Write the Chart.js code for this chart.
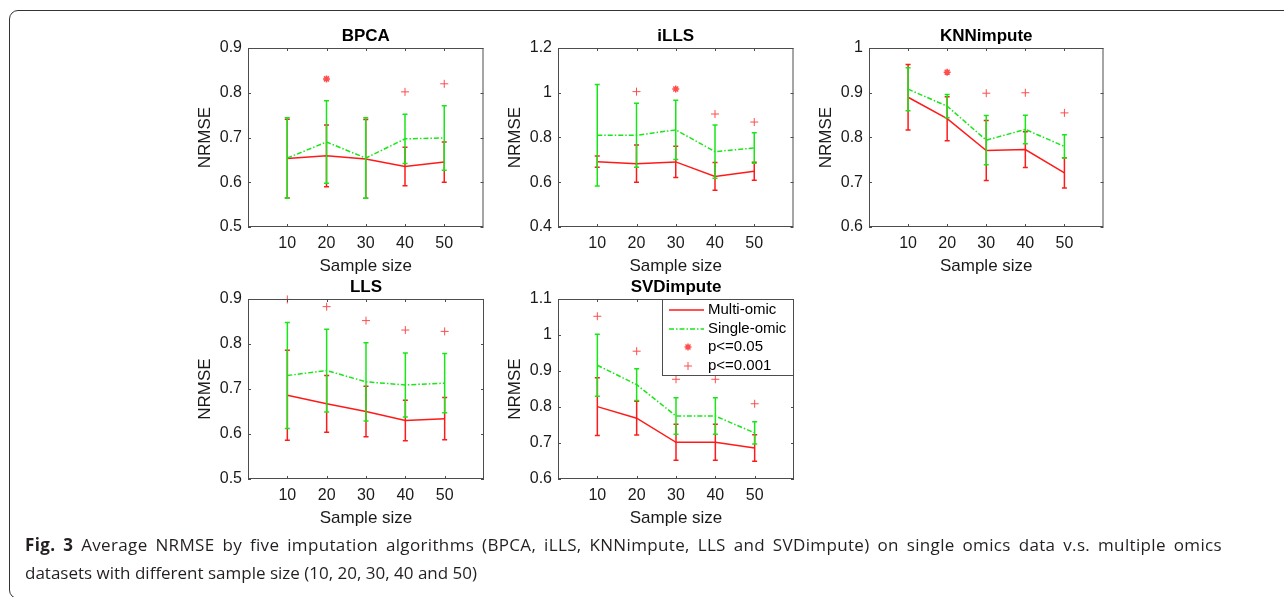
<!DOCTYPE html>
<html>
<head>
<meta charset="utf-8">
<script src="https://cdn.jsdelivr.net/npm/chart.js@4.4.1/dist/chart.umd.min.js"></script>
<style>
  html, body { margin: 0; padding: 0; background: #fff; }
  body { width: 1284px; height: 597px; position: relative; overflow: hidden; }
  .frame { position: absolute; left: 9px; top: 10px; width: 1300px; height: 587px; border: 1.5px solid #333; border-radius: 9px; }
  .panel { position: absolute; }
  .caption { position: absolute; left: 25px; top: 531px; width: 1197px; font: 17px "Open Sans", sans-serif; line-height: 28px; color: #231f20; }
  .caption .l1 { display: block; text-align: justify; text-align-last: justify; white-space: nowrap; letter-spacing: 0.35px; }
  .caption b { font-weight: 700; }
</style>
</head>
<body>
<div class="frame"></div>
<div class="panel" id="p-bpca"><canvas id="bpcaChart"></canvas></div>
<div class="panel" id="p-ills"><canvas id="illsChart"></canvas></div>
<div class="panel" id="p-knn"><canvas id="knnChart"></canvas></div>
<div class="panel" id="p-lls"><canvas id="llsChart"></canvas></div>
<div class="panel" id="p-svd"><canvas id="svdChart"></canvas></div>
<div class="caption"><span class="l1"><b>Fig. 3</b> Average NRMSE by five imputation algorithms (BPCA, iLLS, KNNimpute, LLS and SVDimpute) on single omics data v.s. multiple omics</span>datasets with different sample size (10, 20, 30, 40 and 50)</div>

<script>
// x axis: sample sizes
const sampleSizes = [10, 20, 30, 40, 50];

// BPCA
const bpcaTicks = [0.5, 0.6, 0.7, 0.8, 0.9];
const bpcaMulti = [0.653, 0.659, 0.652, 0.635, 0.645];
const bpcaMultiErr = [0.088, 0.069, 0.088, 0.043, 0.045];
const bpcaSingle = [0.654, 0.690, 0.654, 0.697, 0.699];
const bpcaSingleErr = [0.090, 0.092, 0.090, 0.055, 0.072];
const bpcaP05 = [null, 0.831, null, null, null];
const bpcaP001 = [null, null, null, 0.802, 0.820];

// iLLS
const illsTicks = [0.4, 0.6, 0.8, 1, 1.2];
const illsMulti = [0.692, 0.683, 0.691, 0.626, 0.649];
const illsMultiErr = [0.025, 0.083, 0.070, 0.062, 0.040];
const illsSingle = [0.810, 0.810, 0.834, 0.737, 0.753];
const illsSingleErr = [0.227, 0.143, 0.132, 0.119, 0.068];
const illsP05 = [null, null, 1.017, null, null];
const illsP001 = [null, 1.005, null, 0.905, 0.869];

// KNNimpute
const knnTicks = [0.6, 0.7, 0.8, 0.9, 1];
const knnMulti = [0.890, 0.842, 0.771, 0.773, 0.721];
const knnMultiErr = [0.073, 0.049, 0.067, 0.040, 0.034];
const knnSingle = [0.908, 0.870, 0.794, 0.818, 0.780];
const knnSingleErr = [0.048, 0.026, 0.055, 0.032, 0.026];
const knnP05 = [null, 0.946, null, null, null];
const knnP001 = [null, null, 0.899, 0.900, 0.855];

// LLS
const llsTicks = [0.5, 0.6, 0.7, 0.8, 0.9];
const llsMulti = [0.686, 0.667, 0.650, 0.630, 0.634];
const llsMultiErr = [0.100, 0.063, 0.056, 0.045, 0.047];
const llsSingle = [0.730, 0.741, 0.716, 0.709, 0.713];
const llsSingleErr = [0.118, 0.092, 0.087, 0.071, 0.066];
const llsP05 = [null, null, null, null, null];
const llsP001 = [0.899, 0.883, 0.852, 0.831, 0.828];

// SVDimpute
const svdTicks = [0.6, 0.7, 0.8, 0.9, 1, 1.1];
const svdMulti = [0.801, 0.769, 0.702, 0.702, 0.686];
const svdMultiErr = [0.080, 0.047, 0.050, 0.050, 0.037];
const svdSingle = [0.916, 0.862, 0.775, 0.775, 0.728];
const svdSingleErr = [0.086, 0.044, 0.051, 0.051, 0.031];
const svdP05 = [null, null, null, null, null];
const svdP001 = [1.052, 0.955, 0.877, 0.877, 0.809];

const RED = "#ff1a1a";
const GREEN = "#19e619";
const MARK = "#ff4d4d";

Chart.defaults.font.family = "'Liberation Sans', Arial, sans-serif";
Chart.defaults.color = "#1a1a1a";
Chart.defaults.animation = false;

// MATLAB-like box with inward ticks
const boxPlugin = {
  id: "matlabBox",
  afterDatasetsDraw(chart) {
    const { ctx, chartArea: a, scales: { x, y } } = chart;
    ctx.save();
    ctx.strokeStyle = "#4d4d4d";
    ctx.lineWidth = 1;
    ctx.strokeRect(a.left + 0.5, a.top + 0.5, a.right - a.left - 1, a.bottom - a.top - 1);
    ctx.beginPath();
    y.ticks.forEach(t => {
      const py = Math.round(y.getPixelForValue(t.value)) + 0.5;
      ctx.moveTo(a.left, py); ctx.lineTo(a.left + 3, py);
      ctx.moveTo(a.right, py); ctx.lineTo(a.right - 3, py);
    });
    x.ticks.forEach(t => {
      const px = Math.round(x.getPixelForValue(t.value)) + 0.5;
      ctx.moveTo(px, a.bottom); ctx.lineTo(px, a.bottom - 3);
      ctx.moveTo(px, a.top); ctx.lineTo(px, a.top + 3);
    });
    ctx.stroke();
    ctx.restore();
  }
};

// vertical error bars with small caps, drawn right after their dataset
const errorBarPlugin = {
  id: "errorBars",
  afterDatasetDraw(chart, args) {
    const ds = chart.data.datasets[args.index];
    if (!ds.errors) return;
    const { ctx, scales: { x, y } } = chart;
    ctx.save();
    ctx.strokeStyle = ds.borderColor;
    ctx.lineWidth = 1.5;
    ctx.beginPath();
    ds.data.forEach((p, i) => {
      const e = ds.errors[i];
      const px = x.getPixelForValue(p.x);
      const top = y.getPixelForValue(p.y + e);
      const bot = y.getPixelForValue(p.y - e);
      ctx.moveTo(px, top); ctx.lineTo(px, bot);
      ctx.moveTo(px - 2.5, top); ctx.lineTo(px + 2.5, top);
      ctx.moveTo(px - 2.5, bot); ctx.lineTo(px + 2.5, bot);
    });
    ctx.stroke();
    ctx.restore();
  }
};

// boxed legend in the upper right of the plot area
const legendBoxPlugin = {
  id: "legendBox",
  afterDraw(chart, args, opts) {
    if (!opts.show) return;
    const { ctx, chartArea: a } = chart;
    const w = 132, h = 77;
    const left = a.right - w, top = a.top;
    ctx.save();
    ctx.fillStyle = "#fff";
    ctx.fillRect(left, top, w, h);
    ctx.strokeStyle = "#4d4d4d";
    ctx.lineWidth = 1;
    ctx.strokeRect(left + 0.5, top + 0.5, w - 1, h - 1);
    const rows = [11, 30, 48, 67];
    chart.data.datasets.forEach((ds, i) => {
      const cy = top + rows[i];
      ctx.strokeStyle = ds.borderColor;
      ctx.fillStyle = ds.borderColor;
      ctx.lineWidth = ds.borderWidth;
      if (ds.showLine === false) {
        Chart.helpers.drawPoint(ctx, {
          pointStyle: ds.pointStyle, radius: ds.pointRadius, rotation: 0, borderWidth: ds.borderWidth
        }, left + 26, cy);
      } else {
        ctx.setLineDash(ds.borderDash || []);
        ctx.beginPath();
        ctx.moveTo(left + 7, cy);
        ctx.lineTo(left + 42, cy);
        ctx.stroke();
        ctx.setLineDash([]);
      }
      ctx.fillStyle = "#000";
      ctx.font = "15px 'Liberation Sans', Arial, sans-serif";
      ctx.textBaseline = "middle";
      ctx.fillText(ds.label, left + 46, cy);
    });
    ctx.restore();
  }
};

function points(values) {
  return sampleSizes.map((s, i) => ({ x: s, y: values[i] })).filter(p => p.y !== null);
}

function makePanel(cfg) {
  const [l, t, r, b] = cfg.box;
  const wrap = document.getElementById(cfg.wrap);
  wrap.style.left = (l - 62) + "px";
  wrap.style.top = (t - 26) + "px";
  wrap.style.width = (r - l + 62 + 4) + "px";
  wrap.style.height = (b - t + 26 + 55) + "px";

  return new Chart(document.getElementById(cfg.canvas), {
    type: "line",
    data: {
      datasets: [
        {
          label: "Multi-omic", data: points(cfg.multi), errors: cfg.multiErr,
          borderColor: RED, borderWidth: 1.5, pointRadius: 0, order: 4, clip: false
        },
        {
          label: "Single-omic", data: points(cfg.single), errors: cfg.singleErr,
          borderColor: GREEN, borderWidth: 1.5, borderDash: [5, 2, 1.5, 2], pointRadius: 0, order: 3, clip: false
        },
        {
          label: "p<=0.05", data: points(cfg.p05), showLine: false,
          pointStyle: "star", pointRadius: 3.5, borderWidth: 1.5,
          borderColor: MARK, backgroundColor: MARK, order: 2, clip: false
        },
        {
          label: "p<=0.001", data: points(cfg.p001), showLine: false,
          pointStyle: "cross", pointRadius: 4, borderWidth: 1,
          borderColor: MARK, backgroundColor: MARK, order: 1, clip: false
        }
      ]
    },
    options: {
      responsive: true,
      maintainAspectRatio: false,
      layout: { padding: { top: 6, left: 0, right: 4, bottom: 0 } },
      plugins: {
        legend: { display: false },
        tooltip: { enabled: false },
        title: {
          display: true, text: cfg.title, fullSize: false, color: "#000",
          font: { size: 17, weight: "bold", lineHeight: "16px" },
          padding: { top: 0, bottom: 4 }
        },
        legendBox: { show: !!cfg.legend }
      },
      scales: {
        x: {
          type: "linear", min: 0, max: 60,
          afterBuildTicks: s => { s.ticks = sampleSizes.map(v => ({ value: v })); },
          afterFit: s => { s.height = 55; },
          grid: { display: false, drawTicks: false, tickLength: 0 }, border: { display: false },
          ticks: { font: { size: 16 }, padding: 7, maxRotation: 0 },
          title: { display: true, text: "Sample size", font: { size: 17 }, padding: { top: 0, bottom: 5 } }
        },
        y: {
          type: "linear", min: cfg.ticks[0], max: cfg.ticks[cfg.ticks.length - 1],
          afterBuildTicks: s => { s.ticks = cfg.ticks.map(v => ({ value: v })); },
          afterFit: s => { s.width = 62; },
          grid: { display: false, drawTicks: false, tickLength: 0 }, border: { display: false },
          ticks: { font: { size: 16 }, padding: 6, callback: v => String(v) },
          title: { display: true, text: "NRMSE", font: { size: 17 }, padding: { top: 9, bottom: 0 } }
        }
      }
    },
    plugins: [boxPlugin, errorBarPlugin, legendBoxPlugin]
  });
}

makePanel({ wrap: "p-bpca", canvas: "bpcaChart", title: "BPCA", box: [248, 48, 485, 227], ticks: bpcaTicks,
  multi: bpcaMulti, multiErr: bpcaMultiErr, single: bpcaSingle, singleErr: bpcaSingleErr, p05: bpcaP05, p001: bpcaP001 });
makePanel({ wrap: "p-ills", canvas: "illsChart", title: "iLLS", box: [558, 48, 795, 227], ticks: illsTicks,
  multi: illsMulti, multiErr: illsMultiErr, single: illsSingle, singleErr: illsSingleErr, p05: illsP05, p001: illsP001 });
makePanel({ wrap: "p-knn", canvas: "knnChart", title: "KNNimpute", box: [869, 48, 1105, 227], ticks: knnTicks,
  multi: knnMulti, multiErr: knnMultiErr, single: knnSingle, singleErr: knnSingleErr, p05: knnP05, p001: knnP001 });
makePanel({ wrap: "p-lls", canvas: "llsChart", title: "LLS", box: [248, 299, 485, 479], ticks: llsTicks,
  multi: llsMulti, multiErr: llsMultiErr, single: llsSingle, singleErr: llsSingleErr, p05: llsP05, p001: llsP001 });
makePanel({ wrap: "p-svd", canvas: "svdChart", title: "SVDimpute", box: [558, 299, 795, 479], ticks: svdTicks,
  multi: svdMulti, multiErr: svdMultiErr, single: svdSingle, singleErr: svdSingleErr, p05: svdP05, p001: svdP001, legend: true });
</script>
</body>
</html>
